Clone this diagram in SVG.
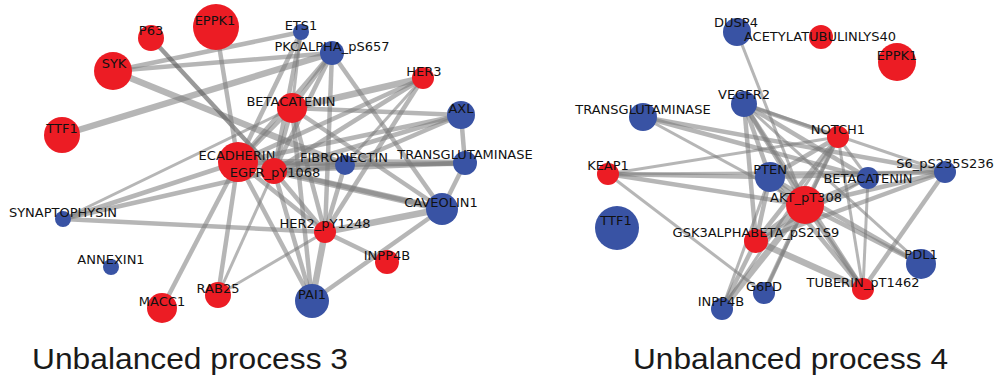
<svg xmlns="http://www.w3.org/2000/svg" width="997" height="381" viewBox="0 0 997 381">
<style>
.e line{stroke:#7a7a7a;stroke-opacity:.55;stroke-linecap:butt}
.w1{stroke-width:3}
.w2{stroke-width:4.5}
.w3{stroke-width:6.5}
.dk{stroke:#555 !important;stroke-opacity:.6 !important}
.r{fill:#ec1c24}
.b{fill:#3953a4}
.lb{font-family:"DejaVu Sans",sans-serif;font-size:13px;fill:#111;text-anchor:middle}
.ti{font-family:"Liberation Sans",Arial,sans-serif;font-size:30px;fill:#1a1a1a}
</style>
<rect width="997" height="381" fill="#fff"/>
<g id="connectors-left" class="e">
<line class="w3" x1="62" y1="135" x2="332" y2="53"/>
<line class="w2" x1="113" y1="71" x2="301" y2="32"/>
<line class="w2" x1="113" y1="71" x2="332" y2="53"/>
<line class="w3" x1="113" y1="71" x2="345" y2="165"/>
<line class="w2 dk" x1="151" y1="38" x2="274" y2="171"/>
<line class="w2" x1="216" y1="27" x2="238" y2="162"/>
<line class="w2" x1="301" y1="32" x2="238" y2="162"/>
<line class="w2" x1="301" y1="32" x2="274" y2="171"/>
<line class="w1" x1="301" y1="32" x2="292" y2="108"/>
<line class="w2" x1="332" y1="53" x2="238" y2="162"/>
<line class="w2" x1="332" y1="53" x2="274" y2="171"/>
<line class="w2" x1="332" y1="53" x2="292" y2="108"/>
<line class="w2" x1="332" y1="53" x2="442" y2="209"/>
<line class="w2" x1="332" y1="53" x2="325" y2="232"/>
<line class="w2" x1="423" y1="78" x2="238" y2="162"/>
<line class="w3" x1="423" y1="78" x2="292" y2="108"/>
<line class="w2" x1="423" y1="78" x2="274" y2="171"/>
<line class="w2" x1="423" y1="78" x2="325" y2="232"/>
<line class="w1" x1="423" y1="78" x2="345" y2="165"/>
<line class="w2" x1="461" y1="115" x2="238" y2="162"/>
<line class="w2" x1="461" y1="115" x2="292" y2="108"/>
<line class="w2" x1="461" y1="115" x2="345" y2="165"/>
<line class="w2" x1="461" y1="115" x2="465" y2="163"/>
<line class="w2" x1="461" y1="115" x2="274" y2="171"/>
<line class="w3" x1="465" y1="163" x2="238" y2="162"/>
<line class="w2" x1="465" y1="163" x2="274" y2="171"/>
<line class="w2" x1="465" y1="163" x2="345" y2="165"/>
<line class="w2" x1="465" y1="163" x2="442" y2="209"/>
<line class="w2" x1="442" y1="209" x2="238" y2="162"/>
<line class="w3" x1="442" y1="209" x2="274" y2="171"/>
<line class="w2" x1="442" y1="209" x2="292" y2="108"/>
<line class="w3" x1="442" y1="209" x2="325" y2="232"/>
<line class="w2" x1="442" y1="209" x2="312" y2="301"/>
<line class="w2" x1="325" y1="232" x2="387" y2="262"/>
<line class="w3" x1="325" y1="232" x2="312" y2="301"/>
<line class="w2" x1="325" y1="232" x2="238" y2="162"/>
<line class="w2" x1="325" y1="232" x2="274" y2="171"/>
<line class="w2" x1="325" y1="232" x2="292" y2="108"/>
<line class="w2" x1="325" y1="232" x2="345" y2="165"/>
<line class="w2" x1="312" y1="301" x2="238" y2="162"/>
<line class="w2" x1="312" y1="301" x2="274" y2="171"/>
<line class="w2" x1="312" y1="301" x2="292" y2="108"/>
<line class="w1" x1="63" y1="219" x2="292" y2="108"/>
<line class="w2" x1="63" y1="219" x2="238" y2="162"/>
<line class="w2" x1="63" y1="219" x2="274" y2="171"/>
<line class="w2" x1="63" y1="219" x2="325" y2="232"/>
<line class="w2" x1="162" y1="308" x2="238" y2="162"/>
<line class="w2" x1="218" y1="295" x2="238" y2="162"/>
<line class="w1" x1="218" y1="295" x2="274" y2="171"/>
<line class="w1" x1="218" y1="295" x2="325" y2="232"/>
<line class="w2" x1="238" y1="162" x2="292" y2="108"/>
<line class="w2" x1="274" y1="171" x2="292" y2="108"/>
<line class="w2" x1="238" y1="162" x2="345" y2="165"/>
<line class="w3" x1="274" y1="171" x2="345" y2="165"/>
</g>
<g id="connectors-right" class="e">
<line class="w1" x1="737" y1="32" x2="805" y2="205"/>
<line class="w2" x1="643" y1="117" x2="868" y2="178"/>
<line class="w2" x1="643" y1="117" x2="945" y2="172"/>
<line class="w1" x1="643" y1="117" x2="805" y2="205"/>
<line class="w1" x1="608" y1="174" x2="838" y2="137"/>
<line class="w2" x1="608" y1="174" x2="770" y2="177"/>
<line class="w2" x1="608" y1="174" x2="805" y2="205"/>
<line class="w1" x1="608" y1="174" x2="945" y2="172"/>
<line class="w1" x1="608" y1="174" x2="764" y2="293"/>
<line class="w2" x1="744" y1="104" x2="770" y2="177"/>
<line class="w2" x1="744" y1="104" x2="805" y2="205"/>
<line class="w2" x1="744" y1="104" x2="838" y2="137"/>
<line class="w2" x1="744" y1="104" x2="868" y2="178"/>
<line class="w2" x1="744" y1="104" x2="756" y2="241"/>
<line class="w2" x1="744" y1="104" x2="863" y2="289"/>
<line class="w1" x1="744" y1="104" x2="921" y2="264"/>
<line class="w1" x1="744" y1="104" x2="945" y2="172"/>
<line class="w2" x1="838" y1="137" x2="805" y2="205"/>
<line class="w2" x1="838" y1="137" x2="770" y2="177"/>
<line class="w2" x1="838" y1="137" x2="756" y2="241"/>
<line class="w1" x1="838" y1="137" x2="868" y2="178"/>
<line class="w1" x1="838" y1="137" x2="863" y2="289"/>
<line class="w1" x1="838" y1="137" x2="722" y2="309"/>
<line class="w2" x1="805" y1="205" x2="770" y2="177"/>
<line class="w2" x1="805" y1="205" x2="868" y2="178"/>
<line class="w2" x1="805" y1="205" x2="945" y2="172"/>
<line class="w3" x1="805" y1="205" x2="756" y2="241"/>
<line class="w2" x1="805" y1="205" x2="921" y2="264"/>
<line class="w2" x1="805" y1="205" x2="863" y2="289"/>
<line class="w2" x1="805" y1="205" x2="764" y2="293"/>
<line class="w3" x1="805" y1="205" x2="722" y2="309"/>
<line class="w2" x1="770" y1="177" x2="756" y2="241"/>
<line class="w2" x1="770" y1="177" x2="863" y2="289"/>
<line class="w1" x1="770" y1="177" x2="722" y2="309"/>
<line class="w2" x1="770" y1="177" x2="945" y2="172"/>
<line class="w2" x1="770" y1="177" x2="921" y2="264"/>
<line class="w3" x1="756" y1="241" x2="863" y2="289"/>
<line class="w2" x1="756" y1="241" x2="722" y2="309"/>
<line class="w2" x1="756" y1="241" x2="945" y2="172"/>
<line class="w2" x1="945" y1="172" x2="863" y2="289"/>
<line class="w1" x1="868" y1="178" x2="863" y2="289"/>
<line class="w1" x1="868" y1="178" x2="756" y2="241"/>
<line class="w1" x1="764" y1="293" x2="838" y2="137"/>
</g>
<g id="L_P63"><circle class="r" cx="151" cy="38" r="13"/><text class="lb" x="151" y="35">P63</text></g>
<g id="L_EPPK1"><circle class="r" cx="216" cy="27" r="23"/><text class="lb" x="215" y="25">EPPK1</text></g>
<g id="L_SYK"><circle class="r" cx="113" cy="71" r="19"/><text class="lb" x="114" y="68">SYK</text></g>
<g id="L_TTF1"><circle class="r" cx="62" cy="135" r="18"/><text class="lb" x="62" y="133">TTF1</text></g>
<g id="L_ETS1"><circle class="b" cx="301" cy="32" r="8"/><text class="lb" x="301" y="30">ETS1</text></g>
<g id="L_PKCALPHA"><circle class="b" cx="332" cy="53" r="12"/><text class="lb" x="332" y="51">PKCALPHA_pS657</text></g>
<g id="L_HER3"><circle class="r" cx="423" cy="78" r="11"/><text class="lb" x="424" y="76">HER3</text></g>
<g id="L_AXL"><circle class="b" cx="461" cy="115" r="14"/><text class="lb" x="461" y="113">AXL</text></g>
<g id="L_BETACATENIN"><circle class="r" cx="292" cy="108" r="15"/><text class="lb" x="291" y="106">BETACATENIN</text></g>
<g id="L_FIBRONECTIN"><circle class="b" cx="345" cy="165" r="10"/><text class="lb" x="344" y="162">FIBRONECTIN</text></g>
<g id="L_TRANSGLUTAMINASE"><circle class="b" cx="465" cy="163" r="12"/><text class="lb" x="465" y="159">TRANSGLUTAMINASE</text></g>
<g id="L_ECADHERIN"><circle class="r" cx="238" cy="162" r="20"/><text class="lb" x="237" y="160">ECADHERIN</text></g>
<g id="L_EGFR"><circle class="r" cx="274" cy="171" r="13"/><text class="lb" x="275" y="177">EGFR_pY1068</text></g>
<g id="L_CAVEOLIN1"><circle class="b" cx="442" cy="209" r="16"/><text class="lb" x="441" y="207">CAVEOLIN1</text></g>
<g id="L_HER2"><circle class="r" cx="325" cy="232" r="11"/><text class="lb" x="325" y="228">HER2_pY1248</text></g>
<g id="L_INPP4B"><circle class="r" cx="387" cy="262" r="12"/><text class="lb" x="387" y="260">INPP4B</text></g>
<g id="L_PAI1"><circle class="b" cx="312" cy="301" r="17"/><text class="lb" x="312" y="299">PAI1</text></g>
<g id="L_SYNAPTOPHYSIN"><circle class="b" cx="63" cy="219" r="8"/><text class="lb" x="63" y="217">SYNAPTOPHYSIN</text></g>
<g id="L_ANNEXIN1"><circle class="b" cx="111" cy="267" r="8"/><text class="lb" x="111" y="264">ANNEXIN1</text></g>
<g id="L_MACC1"><circle class="r" cx="162" cy="308" r="15"/><text class="lb" x="162" y="306">MACC1</text></g>
<g id="L_RAB25"><circle class="r" cx="218" cy="295" r="13"/><text class="lb" x="218" y="293">RAB25</text></g>
<g id="R_DUSP4"><circle class="b" cx="737" cy="32" r="14"/><text class="lb" x="736" y="27">DUSP4</text></g>
<g id="R_ACETYLATUBULINLYS40"><circle class="r" cx="821" cy="37" r="12"/><text class="lb" x="820" y="41">ACETYLATUBULINLYS40</text></g>
<g id="R_EPPK1"><circle class="r" cx="897" cy="62" r="19"/><text class="lb" x="897" y="60">EPPK1</text></g>
<g id="R_VEGFR2"><circle class="b" cx="744" cy="104" r="13"/><text class="lb" x="744" y="99">VEGFR2</text></g>
<g id="R_TRANSGLUTAMINASE"><circle class="b" cx="643" cy="117" r="14"/><text class="lb" x="643" y="114">TRANSGLUTAMINASE</text></g>
<g id="R_KEAP1"><circle class="r" cx="608" cy="174" r="11"/><text class="lb" x="608" y="170">KEAP1</text></g>
<g id="R_TTF1"><circle class="b" cx="617" cy="228" r="22"/><text class="lb" x="616" y="225">TTF1</text></g>
<g id="R_NOTCH1"><circle class="r" cx="838" cy="137" r="11"/><text class="lb" x="838" y="134">NOTCH1</text></g>
<g id="R_PTEN"><circle class="b" cx="770" cy="177" r="15"/><text class="lb" x="770" y="174">PTEN</text></g>
<g id="R_S6"><circle class="b" cx="945" cy="172" r="11"/><text class="lb" x="945" y="168">S6_pS235S236</text></g>
<g id="R_AKT"><circle class="r" cx="805" cy="205" r="19"/><text class="lb" x="806" y="202">AKT_pT308</text></g>
<g id="R_BETACATENIN"><circle class="b" cx="868" cy="178" r="11"/><text class="lb" x="868" y="183">BETACATENIN</text></g>
<g id="R_GSK3"><circle class="r" cx="756" cy="241" r="12"/><text class="lb" x="756" y="237">GSK3ALPHABETA_pS21S9</text></g>
<g id="R_PDL1"><circle class="b" cx="921" cy="264" r="15"/><text class="lb" x="921" y="259">PDL1</text></g>
<g id="R_TUBERIN"><circle class="r" cx="863" cy="289" r="11"/><text class="lb" x="863" y="287">TUBERIN_pT1462</text></g>
<g id="R_G6PD"><circle class="b" cx="764" cy="293" r="11"/><text class="lb" x="764" y="291">G6PD</text></g>
<g id="R_INPP4B"><circle class="b" cx="722" cy="309" r="11"/><text class="lb" x="721" y="306">INPP4B</text></g>
<text class="ti" x="32" y="369" textLength="316" lengthAdjust="spacingAndGlyphs">Unbalanced process 3</text>
<text class="ti" x="633" y="369" textLength="315" lengthAdjust="spacingAndGlyphs">Unbalanced process 4</text>
</svg>
